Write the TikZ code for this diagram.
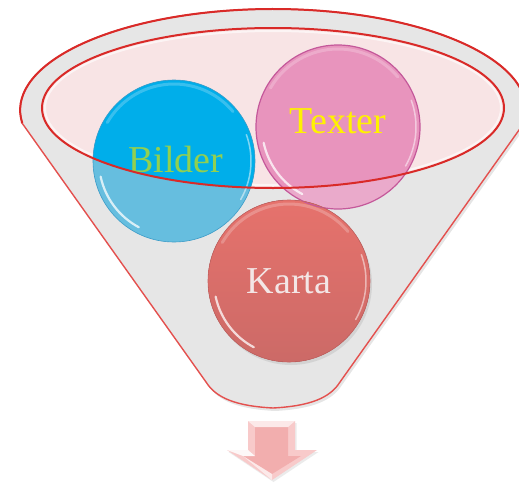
\documentclass[tikz,border=0pt]{standalone}
\usepackage{fontspec}
\setmainfont{Liberation Serif}
\definecolor{funnelgray}{HTML}{E6E6E6}
\definecolor{innerpink}{HTML}{F8E4E5}
\definecolor{redline}{HTML}{D92A28}
\definecolor{redside}{HTML}{E4504E}
\definecolor{bilderblue}{HTML}{00AEEA}
\definecolor{bilderlight}{HTML}{66BEDF}
\definecolor{bilderedge}{HTML}{3C9CC8}
\definecolor{texterpink}{HTML}{E894BD}
\definecolor{texterlight}{HTML}{EAAACB}
\definecolor{texteredge}{HTML}{C4589A}
\definecolor{kartatop}{HTML}{E6726C}
\definecolor{kartabottom}{HTML}{CC6A67}
\definecolor{kartaedge}{HTML}{C86462}
\definecolor{bildergreen}{HTML}{92D050}
\definecolor{kartatext}{HTML}{F3E6E6}
\definecolor{arrowouter}{HTML}{F8CACA}
\definecolor{arrowinner}{HTML}{F2AEAE}
\tikzset{
  ball/.style={circle, inner sep=0pt, minimum size=#1},
  lbl/.style={font=\fontsize{38}{40}\selectfont, inner sep=0pt, anchor=base},
  gloss/.style={white, line cap=round}
}
\begin{document}
\begin{tikzpicture}[x=1pt,y=-1pt]
\useasboundingbox (0,0) rectangle (519,482);
\def\funnel{(22,123) -- (206,382) .. controls (216,398) and (236,406) .. (273,408) .. controls (310,406) and (330,398) .. (340,382) -- (524,123) arc[start angle=7.4, end angle=-187.4, x radius=253, y radius=101] -- cycle}
% shadow and body of the funnel
\fill[black, opacity=0.10, shift={(2,3)}] \funnel;
\fill[funnelgray] \funnel;
\fill[innerpink] (273,108) ellipse[x radius=231, y radius=80];
\draw[white, opacity=0.6, line width=2] (273,108) ellipse[x radius=228, y radius=77];
% balls: colours outside the mouth
\fill[bilderlight] (174,161) circle[radius=81];
\fill[texterlight] (338,127) circle[radius=82];
\fill[black, opacity=0.08] (291,284) circle[radius=81];
\fill[top color=kartatop, bottom color=kartabottom] (289,281) circle[radius=81];
% balls: colours inside the mouth
\begin{scope}
\clip (273,108) ellipse[x radius=231, y radius=80];
\fill[bilderblue] (174,161) circle[radius=81];
\fill[texterpink] (338,127) circle[radius=82];
\end{scope}
% ball outlines
\node[ball=162, draw=bilderedge, line width=0.6] (bilder) at (174,161) {};
\node[ball=164, draw=texteredge, line width=1.2] (texter) at (338,127) {};
\node[ball=162, draw=kartaedge, line width=0.6] (karta) at (289,281) {};
% gloss
\foreach \b/\r in {bilder/81, texter/82, karta/81}{
  \draw[gloss, opacity=0.75, line width=2.2] ([shift={(118:\r-6)}]\b.center) arc[start angle=118, end angle=168, radius=\r-6];
  \draw[gloss, opacity=0.22, line width=3] ([shift={(-150:\r-4)}]\b.center) arc[start angle=-150, end angle=-40, radius=\r-4];
  \draw[gloss, opacity=0.5, line width=1.5] ([shift={(-20:\r-4)}]\b.center) arc[start angle=-20, end angle=30, radius=\r-4];
}
% labels
\node[lbl, text=bildergreen] (bildertext) at (176,172) {Bilder};
\node[lbl, text=yellow] (textertext) at (338,133) {Texter};
\node[lbl, text=kartatext] (kartatext) at (289,293) {Karta};
% outlines
\draw[redline, line width=2] (273,108) ellipse[x radius=231, y radius=80];
\draw[redside, line width=1.4] \funnel;
\draw[redline, line width=2] (524,123) arc[start angle=7.4, end angle=-187.4, x radius=253, y radius=101];
% arrow
\fill[black, opacity=0.08, shift={(1.5,2)}] (248,421) -- (295,421) -- (295,450) -- (317,450) -- (272,480) -- (227,450) -- (248,450) -- cycle;
\fill[arrowouter] (248,421) -- (295,421) -- (295,450) -- (317,450) -- (272,480) -- (227,450) -- (248,450) -- cycle;
\fill[arrowinner] (255,427) -- (288,427) -- (288,456) -- (301,456) -- (272,474) -- (243,456) -- (255,456) -- cycle;
\fill[white, opacity=0.85] (227,450) -- (248,450) -- (255,456) -- (243,456) -- cycle;
\fill[white, opacity=0.6] (243,456) -- (272,474) -- (272,480) -- cycle;
\fill[white, opacity=0.6] (248,421) -- (255,427) -- (288,427) -- (295,421) -- cycle;
\end{tikzpicture}
\end{document}
